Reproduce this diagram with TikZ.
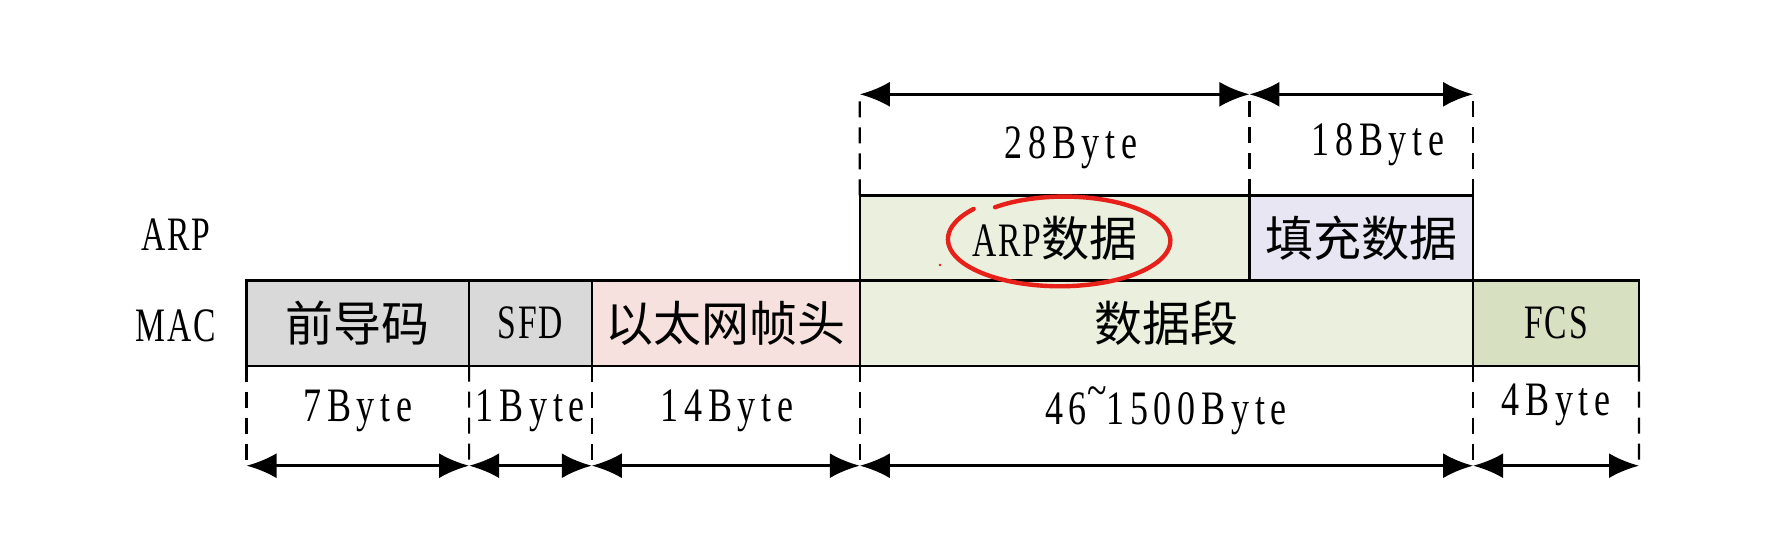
\documentclass[tikz,border=0pt]{standalone}
\usepackage{fontspec}
\setmainfont[FakeStretch=0.75,LetterSpace=12]{Liberation Serif}
\newfontfamily\nar[FakeStretch=0.7,LetterSpace=4]{Liberation Serif}
\newfontfamily\cjk{Noto Sans CJK SC}
\usetikzlibrary{arrows.meta}
\definecolor{gfill}{HTML}{D9D9D9}
\definecolor{pfill}{HTML}{F6E1DE}
\definecolor{dfill}{HTML}{EBF0DE}
\definecolor{lfill}{HTML}{E8E6F2}
\definecolor{ffill}{HTML}{D8E0C2}
\definecolor{penred}{HTML}{E8201A}
\begin{document}
\begin{tikzpicture}[x=0.5pt,y=-0.5pt,
  seg/.style={draw=black, line width=1.2pt, inner sep=0pt, outer sep=0pt,
     minimum height=42.6pt, font=\fontsize{24}{28}\selectfont},
  lbl/.style={font=\fontsize{24}{28}\selectfont, inner sep=0pt},
  guide/.style={line width=1.1pt, dash pattern=on 8pt off 5pt},
  dim/.style={line width=1.5pt, {Latex[length=15pt,width=12.5pt]}-{Latex[length=15pt,width=12.5pt]}}]
\useasboundingbox (0,0) rectangle (1781,542);
% MAC row
\node[seg, fill=gfill, minimum width=111.3pt] (pre) at (357.8,323.1) {\cjk 前导码};
\node[seg, fill=gfill, minimum width=61.35pt] (sfd) at (530.45,323.1) {\nar SFD};
\node[seg, fill=pfill, minimum width=134pt] (eth) at (725.8,323.1) {\cjk 以太网帧头};
\node[seg, fill=dfill, minimum width=306.65pt] (dat) at (1166.45,323.1) {\cjk 数据段};
\node[seg, fill=ffill, minimum width=82.95pt] (fcs) at (1556.05,323.1) {\nar FCS};
% ARP row
\node[seg, fill=dfill, minimum width=194.8pt] (arp) at (1054.6,237.95) {\nar ARP{\cjk 数据}};
\node[seg, fill=lfill, minimum width=111.85pt] (pad) at (1361.25,237.95) {\cjk 填充数据};
% row labels
\node[lbl] (larp) at (176,235) {\nar ARP};
\node[lbl] (lmac) at (176,326) {\nar MAC};
% bottom guides
\coordinate (b0) at (246.5,465.7);
\coordinate (b1) at (469.1,465.7);
\coordinate (b2) at (591.8,465.7);
\coordinate (b3) at (859.8,465.7);
\coordinate (b4) at (1473.1,465.7);
\coordinate (b5) at (1639,465.7);
\draw[guide] (pre.south west) -- (b0);
\draw[guide] (sfd.south west) -- (b1);
\draw[guide] (eth.south west) -- (b2);
\draw[guide] (dat.south west) -- (b3);
\draw[guide] (fcs.south west) -- (b4);
\draw[guide] (fcs.south east) -- (b5);
\draw[dim] (b0) -- (b1);
\draw[dim] (b1) -- (b2);
\draw[dim] (b2) -- (b3);
\draw[dim] (b3) -- (b4);
\draw[dim] (b4) -- (b5);
\node[lbl] (s7) at (357.8,411) {7Byte};
\node[lbl] (s1) at (530.4,411) {1Byte};
\node[lbl] (s14) at (727,411) {14Byte};
\node[lbl] (s46) at (1166,411) {46\raisebox{0.38em}{\textasciitilde}1500Byte};
\node[lbl] (s4) at (1556,405) {4Byte};
% top guides
\coordinate (t0) at (859.8,94.3);
\coordinate (t1) at (1249.4,94.3);
\coordinate (t2) at (1473.1,94.3);
\draw[guide] (arp.north west) -- (t0);
\draw[guide] (pad.north west) -- (t1);
\draw[guide] (pad.north east) -- (t2);
\draw[dim] (t0) -- (t1);
\draw[dim] (t1) -- (t2);
\node[lbl] (s28) at (1071,148) {28Byte};
\node[lbl] (s18) at (1378,145) {18Byte};
% red hand-drawn ellipse
\draw[penred, line width=2.2pt, line cap=round]
  plot[domain=140:490, samples=90, smooth]
  ({1062+112*cos(\x)*(1.03-0.1*(\x-140)/350)}, {240-46*sin(\x)*(1.05-0.12*(\x-140)/350)});
\fill[penred] (940,265) circle (1.3);
\end{tikzpicture}
\end{document}
